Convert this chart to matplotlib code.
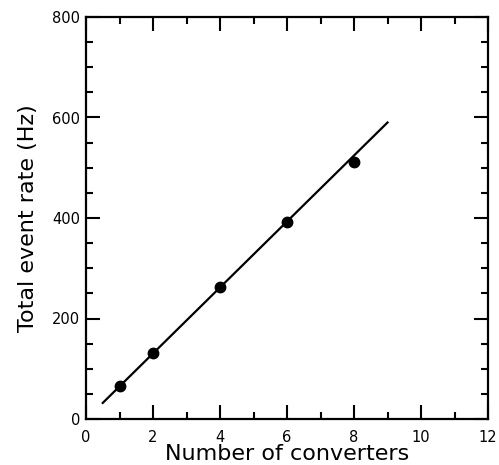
import numpy as np
import matplotlib.pyplot as plt
from matplotlib.ticker import MultipleLocator

plt.rcParams['font.family'] = ['DejaVu Sans']

# measured points
converters = [1, 2, 4, 6, 8]
rate = [65, 131, 262, 392, 511]

# linear fit line
fit_x = [0.5, 9.0]
fit_y = [32, 590]

fig = plt.figure(figsize=(4.99, 4.65), dpi=100)
ax = fig.add_axes([86 / 499, 46 / 465, 402 / 499, 402 / 465])

ax.plot(fit_x, fit_y, color='black', lw=1.6)
ax.plot(converters, rate, 'o', color='black', ms=7.5)

ax.set_xlim(0, 12)
ax.set_ylim(0, 800)
ax.xaxis.set_major_locator(MultipleLocator(2))
ax.xaxis.set_minor_locator(MultipleLocator(1))
ax.yaxis.set_major_locator(MultipleLocator(200))
ax.yaxis.set_minor_locator(MultipleLocator(50))
ax.tick_params(which='both', direction='in', top=True, right=True,
               width=1.5, labelsize=10.5)
ax.tick_params(axis='x', pad=8)
ax.tick_params(axis='y', pad=4)
ax.tick_params(which='major', length=10)
ax.tick_params(which='minor', length=5)
for s in ax.spines.values():
    s.set_linewidth(1.6)

ax.set_xlabel('Number of converters', fontsize=16, labelpad=-1)
ax.set_ylabel('Total event rate (Hz)', fontsize=16, labelpad=10)

fig.savefig('out.png', dpi=100)
